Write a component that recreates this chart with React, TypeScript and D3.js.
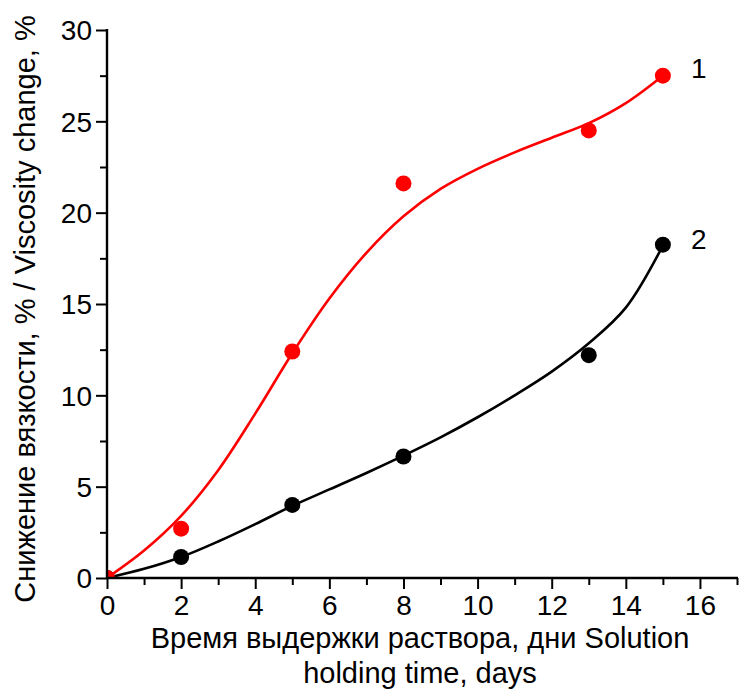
import * as d3 from 'd3';
import React, { useEffect, useRef } from 'react';

// measured points (days, % viscosity change)
const days = [0, 2, 5, 8, 13, 15];
const series1 = [0, 2.7, 12.4, 21.6, 24.5, 27.5];
const series2 = [0, 1.15, 4.0, 6.65, 12.2, 18.25];

// fitted curves
const fitDays = [0, 1, 2, 3, 4, 5, 6, 7, 8, 9, 10, 11, 12, 13, 14, 15];
const fit1 = [0, 1.5, 3.4, 5.9, 9.0, 12.3, 15.3, 17.8, 19.8, 21.3, 22.4, 23.3, 24.1, 24.9, 26.0, 27.5];
const fit2 = [0, 0.5, 1.15, 2.0, 2.95, 3.95, 4.85, 5.75, 6.7, 7.7, 8.8, 10.0, 11.3, 12.85, 14.8, 18.2];

const xMajor = [0, 2, 4, 6, 8, 10, 12, 14, 16];
const xMinor = [1, 3, 5, 7, 9, 11, 13, 15, 17];
const yMajor = [0, 5, 10, 15, 20, 25, 30];
const yMinor = [2.5, 7.5, 12.5, 17.5, 22.5, 27.5];

const xTitle = ['Время выдержки раствора, дни Solution', 'holding time, days'];
const yTitle = 'Снижение вязкости, % / Viscosity change, %';

const W = 750;
const H = 696;
const FONT = 'Liberation Sans, Arial, sans-serif';

export default function App() {
  const svgRef = useRef<SVGSVGElement>(null);

  useEffect(() => {
    if (!svgRef.current) return;
    const svg = d3.select(svgRef.current);
    svg.selectAll('*').remove();

    const left = 107, right = 737, top = 30, bottom = 578;
    const x = d3.scaleLinear().domain([0, 17]).range([left, right]);
    const y = d3.scaleLinear().domain([0, 30]).range([bottom, top]);

    svg.append('defs').append('clipPath').attr('id', 'plot')
      .append('rect')
      .attr('x', left).attr('y', top)
      .attr('width', right - left).attr('height', bottom - top);

    const line = d3.line<number>()
      .x((_, i) => x(fitDays[i]))
      .curve(d3.curveCatmullRom.alpha(0.5));

    const plot = svg.append('g').attr('clip-path', 'url(#plot)');

    const drawSeries = (fit: number[], pts: number[], color: string) => {
      plot.append('path')
        .attr('d', line.y(d => y(d))(fit))
        .attr('fill', 'none')
        .attr('stroke', color)
        .attr('stroke-width', 2.6);
      plot.selectAll(null)
        .data(pts)
        .join('circle')
        .attr('cx', (_, i) => x(days[i]))
        .attr('cy', d => y(d))
        .attr('r', 8)
        .attr('fill', color);
    };
    drawSeries(fit2, series2, '#000');
    drawSeries(fit1, series1, '#ff0000');

    // axes: minor + major ticks, outward
    const xAxis = svg.append('g').attr('transform', `translate(0,${bottom})`);
    xAxis.call(d3.axisBottom(x).tickValues(xMinor).tickSize(7).tickFormat(() => ''));
    xAxis.call(g => g.append('g').call(d3.axisBottom(x).tickValues(xMajor).tickSize(11)));
    const yAxis = svg.append('g').attr('transform', `translate(${left},0)`);
    yAxis.call(d3.axisLeft(y).tickValues(yMinor).tickSize(7).tickFormat(() => ''));
    yAxis.call(g => g.append('g').call(d3.axisLeft(y).tickValues(yMajor).tickSize(11)));

    // plain axis lines without end ticks
    svg.selectAll('.domain').remove();
    svg.append('line')
      .attr('x1', left).attr('x2', right + 1)
      .attr('y1', bottom).attr('y2', bottom)
      .attr('stroke', '#000').attr('stroke-width', 2.4);
    svg.append('line')
      .attr('x1', left).attr('x2', left)
      .attr('y1', top - 1).attr('y2', bottom + 1)
      .attr('stroke', '#000').attr('stroke-width', 2.4);

    svg.selectAll('.tick line').attr('stroke', '#000').attr('stroke-width', 2);
    svg.selectAll('.tick text')
      .attr('fill', '#000')
      .style('font-family', FONT)
      .style('font-size', '28px');
    xAxis.selectAll('.tick text').attr('dy', 0).attr('y', 37);
    yAxis.selectAll('.tick text').attr('x', -15).attr('dy', '0.35em');

    // titles
    svg.append('text')
      .attr('text-anchor', 'middle')
      .style('font-family', FONT)
      .style('font-size', '29px')
      .selectAll('tspan')
      .data(xTitle)
      .join('tspan')
      .attr('x', (left + right) / 2 - 2)
      .attr('y', (_, i) => 648 + i * 35)
      .text(d => d);

    svg.append('text')
      .attr('transform', `translate(35,${(top + bottom) / 2 + 5}) rotate(-90)`)
      .attr('text-anchor', 'middle')
      .style('font-family', FONT)
      .style('font-size', '29px')
      .text(yTitle);

    // curve labels
    const labels = [
      { t: '1', v: series1[series1.length - 1], dy: -7 },
      { t: '2', v: series2[series2.length - 1], dy: -5 },
    ];
    svg.selectAll('text.lbl')
      .data(labels)
      .join('text')
      .attr('class', 'lbl')
      .attr('x', x(15) + 28)
      .attr('y', d => y(d.v) + d.dy)
      .attr('dy', '0.35em')
      .style('font-family', FONT)
      .style('font-size', '28px')
      .text(d => d.t);
  }, []);

  return (
    <div style={{ position: 'absolute', left: 0, top: 0 }}>
      <svg ref={svgRef} width={W} height={H} style={{ display: 'block', background: '#fff' }} />
    </div>
  );
}
